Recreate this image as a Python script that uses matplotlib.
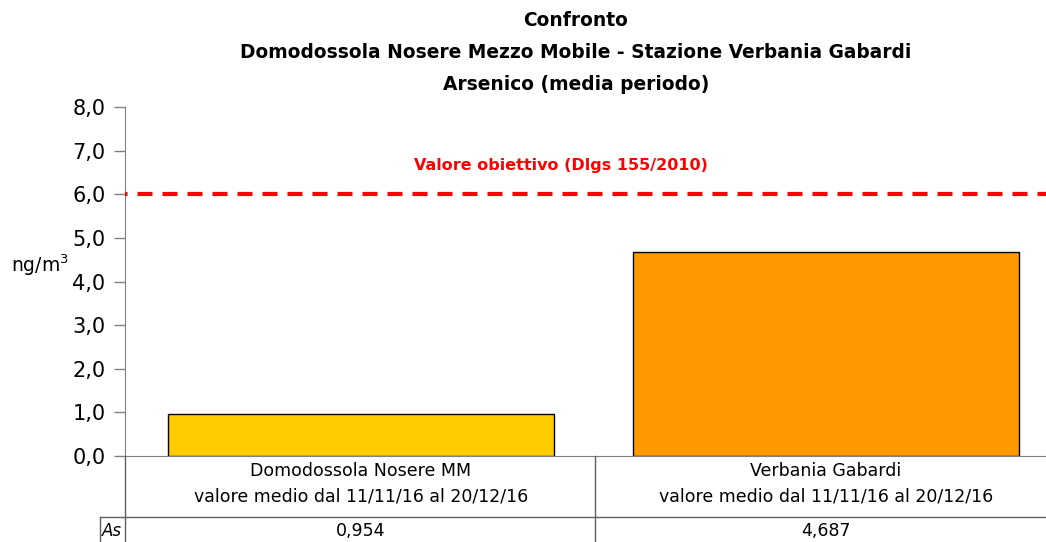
import matplotlib
matplotlib.use("Agg")
import matplotlib.pyplot as plt
from matplotlib.lines import Line2D
from matplotlib.ticker import FuncFormatter

categories = ["Domodossola Nosere MM\nvalore medio dal 11/11/16 al 20/12/16",
              "Verbania Gabardi\nvalore medio dal 11/11/16 al 20/12/16"]
values = [0.954, 4.687]
value_labels = ["0,954", "4,687"]
series_name = "As"
target_value = 6.0
target_label = "Valore obiettivo (Dlgs 155/2010)"
bar_colors = ["#FFCC00", "#FF9900"]
yticks = [0, 1, 2, 3, 4, 5, 6, 7, 8]

plt.rcParams['font.family'] = ['DejaVu Sans']

W, H = 1046, 542
fig = plt.figure(figsize=(W / 100, H / 100), dpi=100)
ax_left, ax_right, ax_bottom, ax_top = 125, 1046, 456, 107
ax = fig.add_axes([ax_left / W, 1 - ax_bottom / H, (ax_right - ax_left) / W, (ax_bottom - ax_top) / H])

c0, step = 361, 465  # pixel centre of first category and spacing
x = list(range(len(categories)))
ax.bar(x, values, width=0.83, color=bar_colors, edgecolor="black", linewidth=1.0, zorder=3)
ax.axhline(target_value, color="#FF0000", linewidth=3, linestyle=(-3.0, (3.6, 2.4)), zorder=4)
ax.text(0.43, target_value + 0.65, target_label, color="#FF0000", fontsize=11.5,
        fontweight="bold", ha="center", va="center")

ax.set_xlim((ax_left - c0) / step, (ax_right - c0) / step)
ax.set_ylim(0, 8)
ax.set_yticks(yticks)
ax.yaxis.set_major_formatter(FuncFormatter(lambda v, p: f"{v:.1f}".replace(".", ",")))
ax.tick_params(axis="y", labelsize=15, length=8, width=1, color="#808080", pad=6)
ax.set_xticks([])
for s in ["top", "right"]:
    ax.spines[s].set_visible(False)
ax.spines["left"].set_color("#808080")
ax.spines["bottom"].set_color("#808080")

fig.text(40 / W, 1 - 265 / H, "ng/m$^3$", fontsize=13.5, ha="center", va="center")

# title
for ty, tt in [(20, "Confronto"),
               (52, "Domodossola Nosere Mezzo Mobile - Stazione Verbania Gabardi"),
               (84, "Arsenico (media periodo)")]:
    fig.text(576 / W, 1 - ty / H, tt, fontsize=13.4, fontweight="bold", ha="center", va="center")

# data table
tc = "#606060"
def fy(py):
    return 1 - py / H
def fx(px):
    return px / W
lines = [
    ((125, 125), (456, 545)),
    ((595, 595), (456, 545)),
    ((100, 1046), (517, 517)),
    ((100, 100), (517, 545)),
]
for xs, ys in lines:
    fig.add_artist(Line2D([fx(v) for v in xs], [fy(v) for v in ys], color=tc, linewidth=1))

xt = ax.get_xaxis_transform()
for i, (cat, lab) in enumerate(zip(categories, value_labels)):
    ax.text(x[i], -(484 - 456) / (ax_bottom - ax_top), cat, transform=xt, ha="center",
            va="center", fontsize=12.5, linespacing=1.5, clip_on=False)
    ax.text(x[i], -(531 - 456) / (ax_bottom - ax_top), lab, transform=xt, ha="center",
            va="center", fontsize=12.5, clip_on=False)
fig.text(fx(112), fy(531), series_name, fontsize=12, fontstyle="italic", ha="center", va="center")

fig.savefig("out.png", dpi=100)
